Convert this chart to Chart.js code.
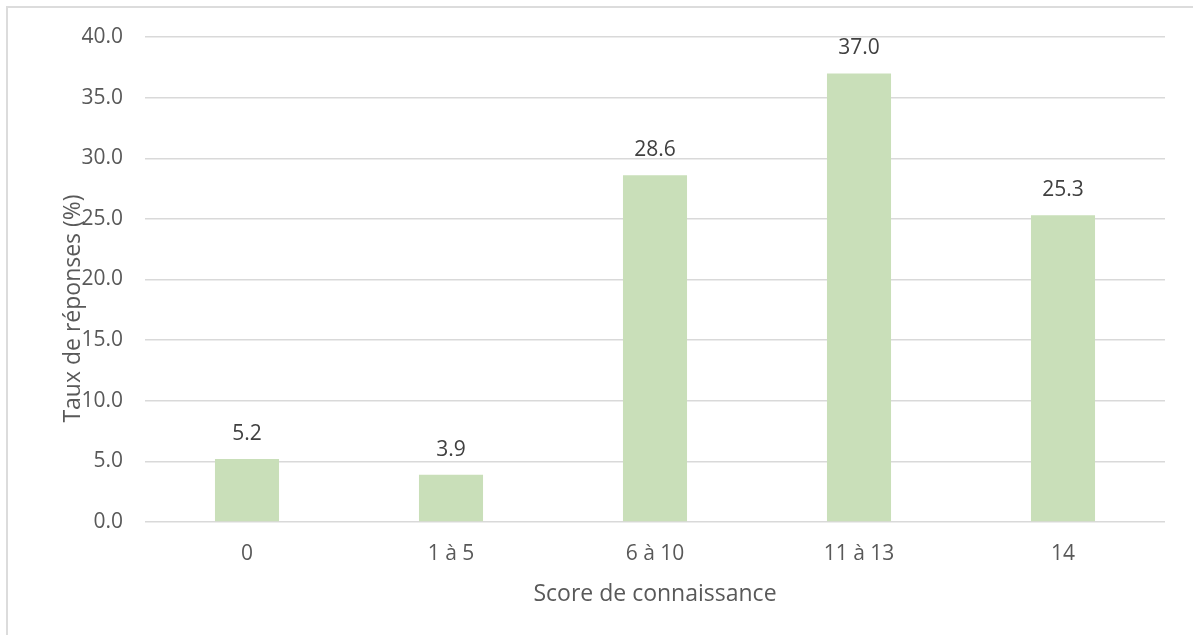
<!DOCTYPE html>
<html lang="fr">
<head>
<meta charset="UTF-8">
<title>Score de connaissance</title>
<script src="https://cdn.jsdelivr.net/npm/chart.js@4.4.5/dist/chart.umd.min.js"></script>
<style>
  html, body { margin: 0; padding: 0; background: #fff; overflow: hidden; }
  .wrap { position: relative; width: 1193px; height: 635px; }
  .frame { position: absolute; left: 6px; top: 6px; width: 1400px; height: 900px; border: 2px solid #dcdcdc; }
  canvas { position: absolute; left: 0; top: 0; }
</style>
</head>
<body>
<div class="wrap">
  <div class="frame"></div>
  <canvas id="scoreChart" width="1193" height="635"></canvas>
</div>
<script>
  const categories = ['0', '1 à 5', '6 à 10', '11 à 13', '14'];
  const tauxReponses = [5.2, 3.9, 28.6, 37.0, 25.3];
  const yTicks = [0, 5, 10, 15, 20, 25, 30, 35, 40];
  const yTitle = 'Taux de réponses (%)';

  const FONT = "'Open Sans', sans-serif";

  // value labels above each bar
  const barLabels = {
    id: 'barLabels',
    afterDatasetsDraw(chart) {
      const ctx = chart.ctx;
      const meta = chart.getDatasetMeta(0);
      ctx.save();
      ctx.font = '21px ' + FONT;
      ctx.fillStyle = '#404040';
      ctx.textAlign = 'center';
      ctx.textBaseline = 'middle';
      meta.data.forEach((bar, i) => {
        ctx.fillText(tauxReponses[i].toFixed(1), bar.x, bar.y - 25);
      });
      ctx.restore();
    }
  };

  // y axis title sits over the tick labels, slightly below the middle
  const yAxisTitle = {
    id: 'yAxisTitle',
    afterDraw(chart) {
      const ctx = chart.ctx;
      const area = chart.chartArea;
      ctx.save();
      ctx.translate(area.left - 72, (area.top + area.bottom) / 2 + 29);
      ctx.rotate(-Math.PI / 2);
      ctx.font = '23px ' + FONT;
      ctx.fillStyle = '#595959';
      ctx.textAlign = 'center';
      ctx.textBaseline = 'middle';
      ctx.fillText(yTitle, 0, 0);
      ctx.restore();
    }
  };

  new Chart(document.getElementById('scoreChart'), {
    type: 'bar',
    data: {
      labels: categories,
      datasets: [{
        data: tauxReponses,
        backgroundColor: '#c9dfb9',
        borderWidth: 0,
        categoryPercentage: 1,
        barPercentage: 0.314
      }]
    },
    options: {
      responsive: false,
      animation: false,
      layout: { padding: { left: 0, right: 28, top: 37, bottom: 0 } },
      plugins: {
        legend: { display: false },
        tooltip: { enabled: false }
      },
      scales: {
        x: {
          grid: { display: false, drawTicks: false },
          border: { display: false },
          ticks: { color: '#595959', font: { family: FONT, size: 21 }, padding: 19 },
          title: {
            display: true,
            text: 'Score de connaissance',
            color: '#595959',
            font: { family: FONT, size: 23 },
            padding: { top: 0, bottom: 27 }
          },
          afterFit(scale) { scale.height = 113; }
        },
        y: {
          min: 0,
          max: 40,
          afterBuildTicks(scale) { scale.ticks = yTicks.map(v => ({ value: v })); },
          grid: { color: '#d9d9d9', lineWidth: 1.5, drawTicks: false },
          border: { display: false },
          ticks: {
            color: '#595959',
            font: { family: FONT, size: 21 },
            padding: 22,
            callback: v => v.toFixed(1)
          },
          afterFit(scale) { scale.width = 145; }
        }
      }
    },
    plugins: [barLabels, yAxisTitle]
  });
</script>
</body>
</html>
